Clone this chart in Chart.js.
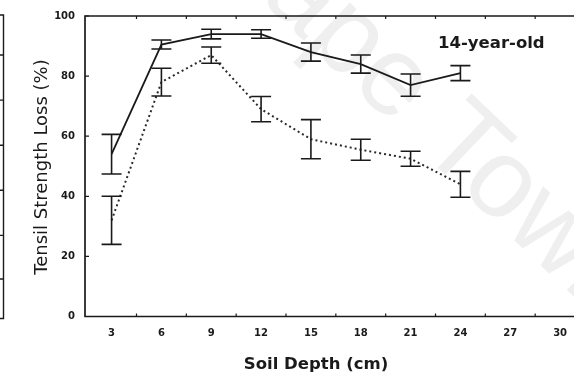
<!DOCTYPE html>
<html>
<head>
<meta charset="utf-8">
<script src="https://cdn.jsdelivr.net/npm/chart.js@4/dist/chart.umd.min.js"></script>
<style>
  html, body { margin: 0; padding: 0; background: #fff; overflow: hidden; }
  #wrap { width: 600px; height: 377px; position: relative; }
</style>
</head>
<body>
<div id="wrap"><canvas id="c" width="600" height="377"></canvas></div>
<script>
// Soil depth (cm) of each sample
const DEPTHS = [3, 6, 9, 12, 15, 18, 21, 24];
// Tensile strength loss (%), solid-line series, with its error half-widths
const LOSS_SOLID = [54, 90.5, 94, 94, 88, 84, 77, 81];
const ERR_SOLID = [6.6, 1.5, 1.6, 1.4, 3, 3, 3.7, 2.5];
// Tensile strength loss (%), dotted-line series, with its error half-widths
const LOSS_DOTTED = [32, 78, 87, 69, 59, 55.5, 52.5, 44];
const ERR_DOTTED = [8, 4.6, 2.7, 4.2, 6.5, 3.5, 2.5, 4.3];
// Axis tick labels
const X_TICKS = [3, 6, 9, 12, 15, 18, 21, 24, 27, 30];
const Y_TICKS = [0, 20, 40, 60, 80, 100];
// Minor tick marks along the depth axis
const X_MINOR = [4.5, 7.5, 10.5, 13.5, 16.5, 19.5, 22.5, 25.5, 28.5];
// Tick marks on the edge of the adjoining panel (in this panel's y units)
const EDGE_TICKS = [87, 72, 57, 42, 27, 12.5];

const PANEL_LABEL = '14-year-old';
const X_TITLE = 'Soil Depth (cm)';
const Y_TITLE = 'Tensil Strength Loss (%)';
const WATERMARK = 'Cape Town';

const toPoints = (ys) => DEPTHS.map((d, i) => ({ x: d, y: ys[i] }));
const INK = '#1a1a1a';
const FONT = '"DejaVu Sans", sans-serif';

// Faint diagonal watermark behind the plot
const watermark = {
  id: 'watermark',
  beforeDraw(chart) {
    const ctx = chart.ctx;
    ctx.save();
    ctx.translate(200, -58);
    ctx.rotate(43.5 * Math.PI / 180);
    ctx.font = '112px "Liberation Sans", Arial, sans-serif';
    ctx.fillStyle = '#efefef';
    ctx.textBaseline = 'alphabetic';
    ctx.textAlign = 'left';
    ctx.fillText(WATERMARK, 0, 0);
    ctx.restore();
  }
};

// Axis frame, tick marks, titles and the edge of the neighbouring panel
const frame = {
  id: 'frame',
  afterDraw(chart) {
    const ctx = chart.ctx;
    const a = chart.chartArea;
    const xs = chart.scales.x, ys = chart.scales.y;
    ctx.save();
    ctx.strokeStyle = INK;
    ctx.lineWidth = 1.7;
    ctx.beginPath();
    ctx.moveTo(a.right, a.top);
    ctx.lineTo(a.left, a.top);
    ctx.lineTo(a.left, a.bottom);
    ctx.lineTo(a.right, a.bottom);
    ctx.stroke();

    ctx.lineWidth = 1.2;
    ctx.beginPath();
    Y_TICKS.forEach(v => {
      const y = ys.getPixelForValue(v);
      ctx.moveTo(a.left, y); ctx.lineTo(a.left + 4, y);
    });
    X_MINOR.forEach(v => {
      const x = xs.getPixelForValue(v);
      ctx.moveTo(x, a.bottom); ctx.lineTo(x, a.bottom - 3);
      ctx.moveTo(x, a.top); ctx.lineTo(x, a.top + 3);
    });
    ctx.stroke();

    // right edge of the panel to the left
    ctx.lineWidth = 1.4;
    ctx.beginPath();
    ctx.moveTo(0, a.top - 1); ctx.lineTo(3.5, a.top - 1);
    ctx.lineTo(3.5, a.bottom + 2); ctx.lineTo(0, a.bottom + 2);
    EDGE_TICKS.forEach(v => {
      const y = ys.getPixelForValue(v);
      ctx.moveTo(0, y); ctx.lineTo(3.5, y);
    });
    ctx.stroke();

    ctx.fillStyle = INK;
    ctx.textBaseline = 'alphabetic';
    ctx.font = 'bold 16.5px ' + FONT;
    ctx.textAlign = 'left';
    ctx.fillText(PANEL_LABEL, 438, 47.5);

    ctx.textAlign = 'center';
    ctx.font = 'bold 16.5px ' + FONT;
    ctx.fillText(X_TITLE, 316, 368.5);

    ctx.save();
    ctx.translate(47, 167);
    ctx.rotate(-Math.PI / 2);
    ctx.font = '18px ' + FONT;
    ctx.fillText(Y_TITLE, 0, 0);
    ctx.restore();
    ctx.restore();
  }
};

// Vertical error bars with caps, taken from each dataset's err array
const errorBars = {
  id: 'errorBars',
  afterDatasetsDraw(chart) {
    const ctx = chart.ctx;
    const xs = chart.scales.x, ys = chart.scales.y;
    ctx.save();
    ctx.strokeStyle = INK;
    ctx.lineWidth = 1.6;
    ctx.setLineDash([]);
    chart.data.datasets.forEach(ds => {
      ds.data.forEach((p, i) => {
        const e = ds.err[i];
        const x = xs.getPixelForValue(p.x);
        const yt = ys.getPixelForValue(p.y + e);
        const yb = ys.getPixelForValue(p.y - e);
        ctx.beginPath();
        ctx.moveTo(x, yt); ctx.lineTo(x, yb);
        ctx.moveTo(x - 10, yt); ctx.lineTo(x + 10, yt);
        ctx.moveTo(x - 10, yb); ctx.lineTo(x + 10, yb);
        ctx.stroke();
      });
    });
    ctx.restore();
  }
};

new Chart(document.getElementById('c'), {
  type: 'line',
  data: {
    datasets: [
      {
        data: toPoints(LOSS_SOLID), err: ERR_SOLID,
        borderColor: INK, borderWidth: 1.8, pointRadius: 0, tension: 0, fill: false
      },
      {
        data: toPoints(LOSS_DOTTED), err: ERR_DOTTED,
        borderColor: '#2a2a2a', borderWidth: 2, borderDash: [2, 3], pointRadius: 0, tension: 0, fill: false
      }
    ]
  },
  options: {
    responsive: false,
    devicePixelRatio: 1,
    animation: false,
    layout: { padding: { left: 0, top: 13, right: 15, bottom: 0 } },
    plugins: { legend: { display: false }, tooltip: { enabled: false } },
    scales: {
      x: {
        type: 'linear', min: 1.4, max: 31.5,
        afterBuildTicks: s => { s.ticks = X_TICKS.map(v => ({ value: v })); },
        afterFit: s => { s.height = 60.5; },
        grid: { display: false, drawTicks: false },
        border: { display: false },
        ticks: { color: INK, font: { family: FONT, size: 10, weight: 'bold' }, padding: 11, maxRotation: 0, autoSkip: false }
      },
      y: {
        min: 0, max: 100,
        afterBuildTicks: s => { s.ticks = Y_TICKS.map(v => ({ value: v })); },
        afterFit: s => { s.width = 85; },
        grid: { display: false, drawTicks: false },
        border: { display: false },
        ticks: { color: INK, font: { family: FONT, size: 10, weight: 'bold' }, padding: 10 }
      }
    }
  },
  plugins: [watermark, errorBars, frame]
});
</script>
</body>
</html>
